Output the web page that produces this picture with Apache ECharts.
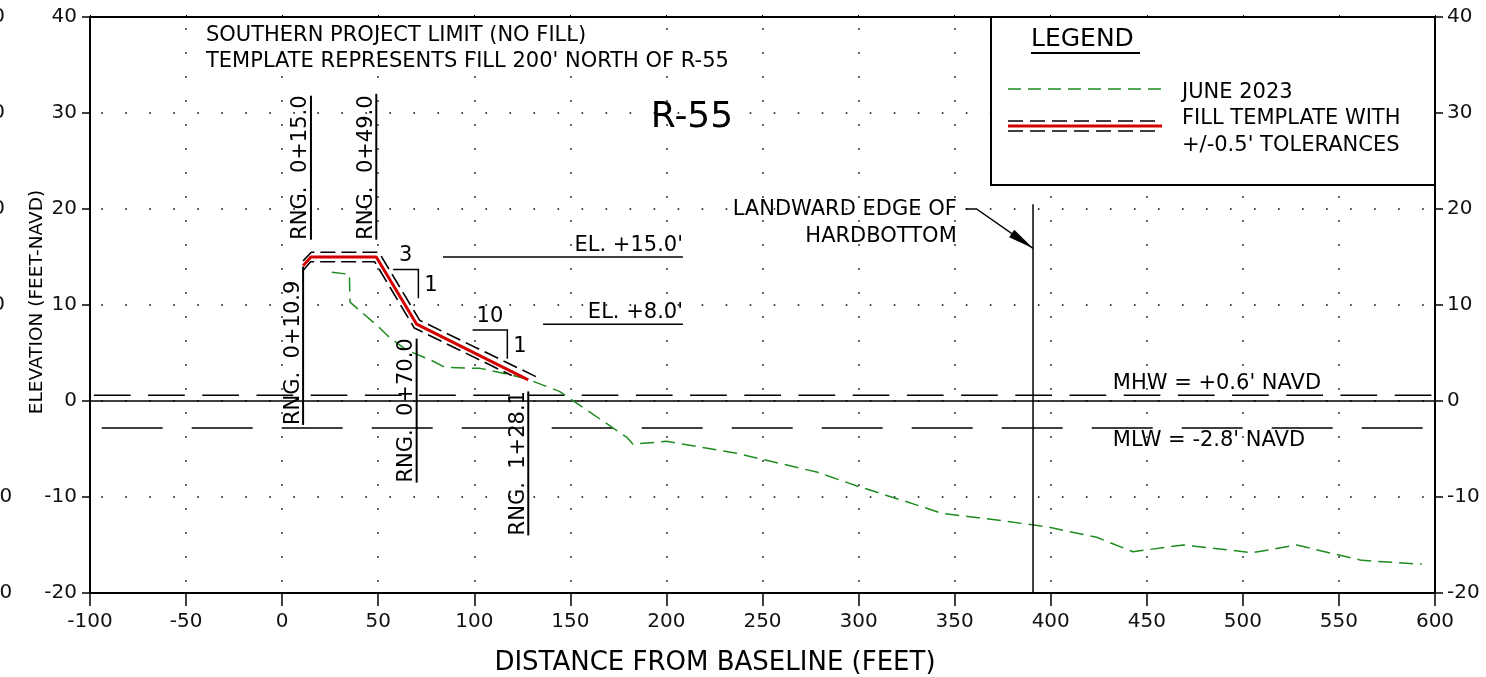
<!DOCTYPE html>
<html><head><meta charset="utf-8">
<script src="https://cdn.jsdelivr.net/npm/echarts@6/dist/echarts.min.js"></script>
<style>html,body{margin:0;padding:0;background:#fff}#c{width:1486px;height:677px}</style>
</head><body><div id="c"></div>
<script>
// ---------- data (stations in feet, elevations in feet NAVD) ----------
const stationAxis = [-100, 600];
const stationStep = 50;
const elevationAxis = [-20, 40];
const elevationStep = 10;

const june2023 = [
  [25.8, 13.4], [35.0, 13.2], [35.3, 10.3], [49.2, 7.9], [56.0, 6.6], [64.8, 5.3],
  [77.0, 4.3], [84.8, 3.5], [103.0, 3.4], [115.1, 2.9], [127.3, 2.3], [144.3, 1.0],
  [179.5, -3.8], [182.6, -4.5], [200.0, -4.2], [236.6, -5.45], [250.3, -6.1],
  [278.2, -7.4], [299.9, -8.9], [325.1, -10.5], [343.3, -11.7], [372.0, -12.4],
  [397.9, -13.1], [423.9, -14.2], [442.7, -15.7], [469.0, -15.0], [504.9, -15.8],
  [528.0, -15.0], [561.8, -16.6], [593.1, -17.0]
];
const fillTemplate = [[10.9, 14.1], [15.0, 15.0], [49.0, 15.0], [70.0, 8.0], [128.1, 2.2]];
const toleranceUpper = [[10.9, 14.6], [15.2, 15.5], [50.3, 15.5], [71.6, 8.4], [133.5, 2.4]];
const toleranceLower = [[10.9, 13.6], [14.8, 14.5], [48.2, 14.5], [68.8, 7.6], [119.5, 2.65]];

const mhw = 0.6;
const mlw = -2.8;
const tideLabels = [
  [432.3, mhw, "MHW = +0.6' NAVD", 'above'],
  [432.3, mlw, "MLW = -2.8' NAVD", 'below']
];

// station, low elevation, high elevation, label
const rangeMarks = [
  [10.9, -2.5, 14.0, 'RNG.  0+10.9'],
  [15.0, 16.8, 31.8, 'RNG.  0+15.0'],
  [49.0, 16.8, 32.0, 'RNG.  0+49.0'],
  [70.0, -8.5, 6.5, 'RNG.  0+70.0'],
  [128.1, -14.0, 1.0, 'RNG.  1+28.1']
];
// start station, end station, elevation, label
const elevationCallouts = [
  [83.7, 208.6, 15.0, "EL. +15.0'"],
  [135.8, 208.6, 8.0, "EL. +8.0'"]
];
// start station, corner station, top elev, bottom elev, run label, rise label
const slopeCallouts = [
  [57.8, 70.9, 13.7, 10.7, '3', '1'],
  [99.1, 117.2, 7.4, 4.4, '10', '1']
];
// hardbottom: station, top elevation of line, arrow tip elevation
const hardbottom = [390.8, 20.5, 15.9];
const hardbottomNote = [351.1, 19.9, 'LANDWARD EDGE OF', 'HARDBOTTOM'];
const hardbottomLeader = [[355.7, 20.0], [361.4, 20.0]];

const notes = ['SOUTHERN PROJECT LIMIT (NO FILL)', "TEMPLATE REPRESENTS FILL 200' NORTH OF R-55"];
const profileName = 'R-55';
const legendItems = ['JUNE 2023', 'FILL TEMPLATE WITH', "+/-0.5' TOLERANCES"];
const xTitle = 'DISTANCE FROM BASELINE (FEET)';
const yTitle = 'ELEVATION (FEET-NAVD)';

// ---------- styles ----------
const FONT = '"DejaVu Sans", Verdana, sans-serif';
const INK = '#000';
const GREEN = '#1e8c1e';
const RED = '#d40000';

const chart = echarts.init(document.getElementById('c'));

function txt(x, y, text, size, align, vAlign, extra) {
  return Object.assign({
    type: 'text', x: x, y: y, z: 101,
    style: { text: text, fontSize: size, fontFamily: FONT, fill: INK, align: align, verticalAlign: vAlign }
  }, extra || {});
}

const axisLineStyle = { show: true, onZero: false, lineStyle: { color: INK, width: 2 } };
const labelStyle = { color: '#111', fontSize: 20, fontFamily: FONT };

const option = {
  animation: false,
  textStyle: { fontFamily: FONT },
  grid: { left: 90, right: 51, top: 17, bottom: 84, containLabel: false, outerBoundsMode: 'none' },
  xAxis: [
    {
      type: 'value', position: 'bottom', min: stationAxis[0], max: stationAxis[1], interval: stationStep,
      axisLine: axisLineStyle,
      axisTick: { show: true, length: 13, lineStyle: { color: INK, width: 1.5 } },
      axisLabel: Object.assign({ margin: 19 }, labelStyle),
      splitLine: { show: true, lineStyle: { color: INK, width: 1.6, type: [1.6, 22.4], dashOffset: 12.8 } }
    },
    {
      type: 'value', position: 'top', min: stationAxis[0], max: stationAxis[1], interval: stationStep,
      axisLine: axisLineStyle,
      axisTick: { show: true, length: 2, lineStyle: { color: INK, width: 1 } },
      axisLabel: { show: false }, splitLine: { show: false }
    }
  ],
  yAxis: [
    {
      type: 'value', position: 'left', min: elevationAxis[0], max: elevationAxis[1], interval: elevationStep,
      axisLine: axisLineStyle,
      axisTick: { show: true, length: 8, lineStyle: { color: INK, width: 1.5 } },
      axisLabel: Object.assign({ margin: 13 }, labelStyle),
      splitLine: { show: true, lineStyle: { color: INK, width: 1.6, type: [1.6, 22.418], dashOffset: 12.84 } }
    },
    {
      type: 'value', position: 'right', min: elevationAxis[0], max: elevationAxis[1], interval: elevationStep,
      axisLine: axisLineStyle,
      axisTick: { show: true, length: 8, lineStyle: { color: INK, width: 1.5 } },
      axisLabel: Object.assign({ margin: 12 }, labelStyle),
      splitLine: { show: false }
    },
    {
      // neighbouring sheet's elevation scale, cut off at the page edge
      type: 'value', position: 'left', offset: 84, min: elevationAxis[0], max: elevationAxis[1], interval: elevationStep,
      axisLine: { show: false, onZero: false }, axisTick: { show: false },
      axisLabel: Object.assign({ margin: 26.4, align: 'left' }, labelStyle),
      splitLine: { show: false }
    }
  ],
  series: [
    {
      type: 'line', name: 'MHW', data: [[stationAxis[0], mhw], [stationAxis[1], mhw]], symbol: 'none', silent: true, z: 2,
      lineStyle: { color: INK, width: 1.5, type: [36.7, 17.5], dashOffset: 50.3 }
    },
    {
      type: 'line', name: 'MLW', data: [[stationAxis[0], mlw], [stationAxis[1], mlw]], symbol: 'none', silent: true, z: 2,
      lineStyle: { color: INK, width: 1.5, type: [61, 29], dashOffset: 78.3 }
    },
    {
      type: 'line', name: 'DATUM', data: [[stationAxis[0], 0], [stationAxis[1], 0]], symbol: 'none', silent: true, z: 2,
      lineStyle: { color: INK, width: 1.5 }
    },
    {
      type: 'line', name: 'JUNE 2023', data: june2023, symbol: 'none', silent: true, z: 3,
      lineStyle: { color: GREEN, width: 1.5, type: [14, 7] }
    },
    {
      type: 'line', name: 'TOL+', data: toleranceUpper, symbol: 'none', silent: true, z: 4,
      lineStyle: { color: INK, width: 1.6, type: [15, 6] }
    },
    {
      type: 'line', name: 'TOL-', data: toleranceLower, symbol: 'none', silent: true, z: 4,
      lineStyle: { color: INK, width: 1.6, type: [15, 6] }
    },
    {
      type: 'line', name: 'FILL TEMPLATE', data: fillTemplate, symbol: 'none', silent: true, z: 5,
      lineStyle: { color: RED, width: 3 }
    },
    {
      type: 'custom', name: 'rangeMarks', silent: true, z: 6,
      data: rangeMarks.map(r => [r[0], r[1], r[2]]),
      renderItem: function (params, api) {
        const m = rangeMarks[params.dataIndex];
        const lo = api.coord([m[0], m[1]]), hi = api.coord([m[0], m[2]]);
        return { type: 'group', children: [
          { type: 'line', shape: { x1: lo[0], y1: lo[1], x2: hi[0], y2: hi[1] }, style: { stroke: INK, lineWidth: 2 } },
          { type: 'text', x: lo[0] + 0.5, y: lo[1], rotation: Math.PI / 2,
            style: { text: m[3], fontSize: 21, fontFamily: FONT, fill: INK, align: 'left', verticalAlign: 'bottom' } }
        ] };
      }
    },
    {
      type: 'custom', name: 'elevationCallouts', silent: true, z: 6,
      data: elevationCallouts.map(r => [r[0], r[2]]),
      renderItem: function (params, api) {
        const m = elevationCallouts[params.dataIndex];
        const a = api.coord([m[0], m[2]]), b = api.coord([m[1], m[2]]);
        return { type: 'group', children: [
          { type: 'line', shape: { x1: a[0], y1: a[1], x2: b[0], y2: b[1] }, style: { stroke: INK, lineWidth: 1.5 } },
          { type: 'text', x: b[0], y: b[1] - 1,
            style: { text: m[3], fontSize: 21, fontFamily: FONT, fill: INK, align: 'right', verticalAlign: 'bottom' } }
        ] };
      }
    },
    {
      type: 'custom', name: 'slopeCallouts', silent: true, z: 6,
      data: slopeCallouts.map(r => [r[0], r[2]]),
      renderItem: function (params, api) {
        const m = slopeCallouts[params.dataIndex];
        const a = api.coord([m[0], m[2]]), c = api.coord([m[1], m[2]]), d = api.coord([m[1], m[3]]);
        return { type: 'group', children: [
          { type: 'polyline', shape: { points: [a, c, d] }, style: { stroke: INK, lineWidth: 1.5, fill: null } },
          { type: 'text', x: (a[0] + c[0]) / 2, y: a[1] - 3,
            style: { text: m[4], fontSize: 21, fontFamily: FONT, fill: INK, align: 'center', verticalAlign: 'bottom' } },
          { type: 'text', x: c[0] + 6, y: (c[1] + d[1]) / 2 + 2,
            style: { text: m[5], fontSize: 21, fontFamily: FONT, fill: INK, align: 'left', verticalAlign: 'middle' } }
        ] };
      }
    },
    {
      type: 'custom', name: 'tideLabels', silent: true, z: 6,
      data: tideLabels.map(r => [r[0], r[1]]),
      renderItem: function (params, api) {
        const m = tideLabels[params.dataIndex];
        const p = api.coord([m[0], m[1]]);
        const above = m[3] === 'above';
        return { type: 'text', x: p[0], y: above ? p[1] - 1 : p[1] + 2,
          style: { text: m[2], fontSize: 21, fontFamily: FONT, fill: INK, align: 'left', verticalAlign: above ? 'bottom' : 'top' } };
      }
    },
    {
      type: 'custom', name: 'hardbottom', silent: true, z: 6,
      data: [[hardbottom[0], hardbottom[1]]],
      renderItem: function (params, api) {
        const top = api.coord([hardbottom[0], hardbottom[1]]);
        const bot = api.coord([hardbottom[0], elevationAxis[0]]);
        const tip = api.coord([hardbottom[0], hardbottom[2]]);
        const lead = hardbottomLeader.map(p => api.coord(p));
        const note = api.coord([hardbottomNote[0], hardbottomNote[1]]);
        const el = lead[lead.length - 1];
        let dx = tip[0] - el[0], dy = tip[1] - el[1];
        const len = Math.sqrt(dx * dx + dy * dy); dx /= len; dy /= len;
        const L = 26, W = 4.5;
        const bx = tip[0] - dx * L, by = tip[1] - dy * L;
        return { type: 'group', children: [
          { type: 'line', shape: { x1: top[0], y1: top[1], x2: bot[0], y2: bot[1] }, style: { stroke: INK, lineWidth: 1.5 } },
          { type: 'polyline', shape: { points: lead.concat([tip]) }, style: { stroke: INK, lineWidth: 1.3, fill: null } },
          { type: 'polygon', shape: { points: [tip, [bx - dy * W, by + dx * W], [bx + dy * W, by - dx * W]] }, style: { fill: INK } },
          { type: 'text', x: note[0], y: note[1],
            style: { text: hardbottomNote[2], fontSize: 21, fontFamily: FONT, fill: INK, align: 'right', verticalAlign: 'middle' } },
          { type: 'text', x: note[0], y: note[1] + 27,
            style: { text: hardbottomNote[3], fontSize: 21, fontFamily: FONT, fill: INK, align: 'right', verticalAlign: 'middle' } }
        ] };
      }
    }
  ],
  graphic: [
    txt(206, 36, notes[0], 21, 'left', 'middle'),
    txt(206, 62, notes[1], 21, 'left', 'middle'),
    txt(692, 118, profileName, 36, 'center', 'middle'),
    // legend box
    { type: 'rect', z: 100, shape: { x: 991, y: 17, width: 444, height: 168 }, style: { fill: '#fff', stroke: INK, lineWidth: 2 } },
    txt(1031, 39, 'LEGEND', 25, 'left', 'middle'),
    { type: 'line', z: 101, shape: { x1: 1031, y1: 53, x2: 1140, y2: 53 }, style: { stroke: INK, lineWidth: 2 } },
    { type: 'line', z: 101, shape: { x1: 1008, y1: 89, x2: 1162, y2: 89 }, style: { stroke: GREEN, lineWidth: 1.5, lineDash: [13, 7] } },
    { type: 'line', z: 101, shape: { x1: 1008, y1: 121, x2: 1162, y2: 121 }, style: { stroke: INK, lineWidth: 1.6, lineDash: [15, 7] } },
    { type: 'line', z: 101, shape: { x1: 1008, y1: 131, x2: 1162, y2: 131 }, style: { stroke: INK, lineWidth: 1.6, lineDash: [15, 7] } },
    { type: 'line', z: 101, shape: { x1: 1008, y1: 126, x2: 1162, y2: 126 }, style: { stroke: RED, lineWidth: 3 } },
    txt(1182, 93, legendItems[0], 21, 'left', 'middle'),
    txt(1182, 119, legendItems[1], 21, 'left', 'middle'),
    txt(1182, 146, legendItems[2], 21, 'left', 'middle'),
    // axis titles
    txt(715, 663, xTitle, 26, 'center', 'middle'),
    { type: 'text', z: 101, x: 37, y: 302, rotation: Math.PI / 2,
      style: { text: yTitle, fontSize: 18.5, fontFamily: FONT, fill: INK, align: 'center', verticalAlign: 'middle' } }
  ]
};
chart.setOption(option);
</script>
</body></html>
